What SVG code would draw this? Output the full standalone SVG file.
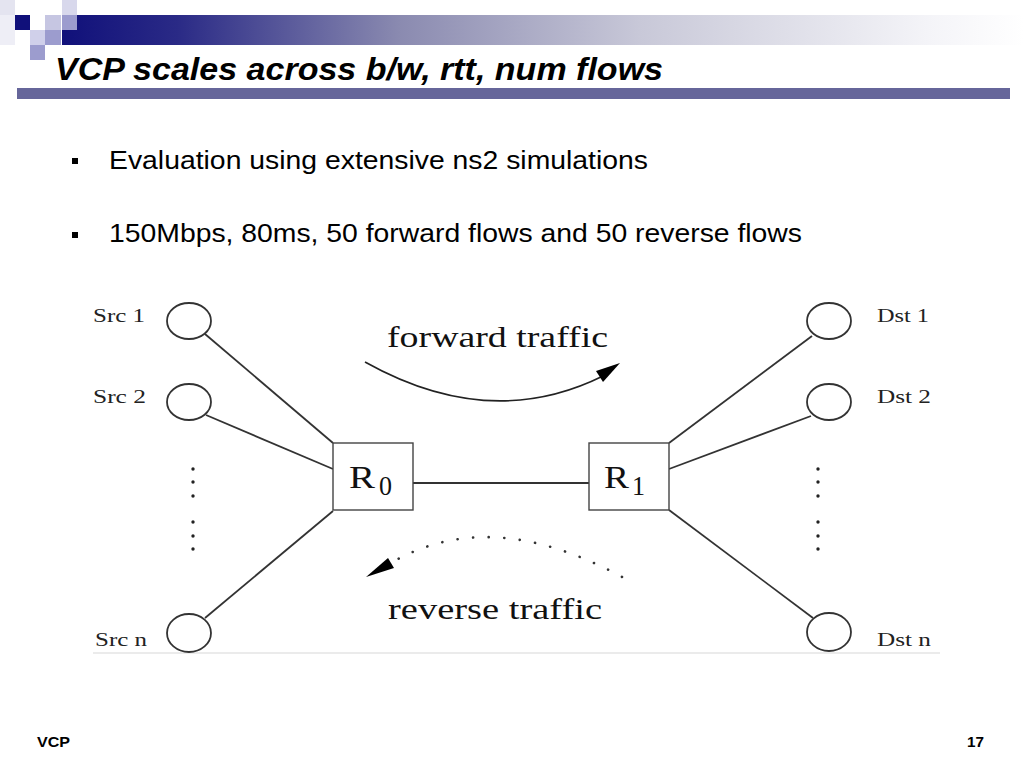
<svg xmlns="http://www.w3.org/2000/svg" width="1024" height="768" viewBox="0 0 1024 768">
<defs>
<linearGradient id="hdr" x1="0" y1="0" x2="1" y2="0">
<stop offset="0" stop-color="#10107a"/>
<stop offset="0.12" stop-color="#2a2a86"/>
<stop offset="0.35" stop-color="#8a8ab0"/>
<stop offset="0.6" stop-color="#c8c8d8"/>
<stop offset="0.9" stop-color="#f4f4f8"/>
<stop offset="1" stop-color="#ffffff"/>
</linearGradient>
<style>
text{white-space:pre}
.node{fill:#fff;stroke:#333;stroke-width:1.8}
.box{fill:#fff;stroke:#444;stroke-width:1.4}
.link{stroke:#333;stroke-width:1.8;fill:none}
.lbl{font-family:"Liberation Serif",serif;font-size:19px;fill:#222}
.big{font-family:"Liberation Serif",serif;fill:#111}
.bul{font-family:"Liberation Sans",Arial,sans-serif;font-size:25px;fill:#000}
.dot{fill:#222}
</style>
</defs>
<rect width="1024" height="768" fill="#fff"/>
<g id="header">
<rect x="0" y="0" width="15" height="15" fill="#e4e4f0"/>
<rect x="0" y="15" width="15" height="30" fill="#eeeef6"/>
<rect x="62" y="15" width="962" height="30" fill="url(#hdr)"/>
<rect x="15" y="15" width="15" height="15" fill="#10107a"/>
<rect x="62" y="0" width="15" height="15" fill="#d8d8ec"/>
<rect x="45" y="15" width="16" height="15" fill="#c6c6e2"/>
<rect x="62" y="15" width="15" height="15" fill="#9c9cce"/>
<rect x="30" y="30" width="15" height="15" fill="#d0d0ea"/>
<rect x="45" y="30" width="16" height="15" fill="#9c9cce"/>
<rect x="30" y="45" width="15" height="15" fill="#9c9cce"/>
<rect x="17" y="88" width="993" height="11" fill="#66669a"/>
<text x="55" y="80" font-family="Liberation Sans,Arial,sans-serif" font-size="32" font-weight="bold" font-style="italic" fill="#000" textLength="608" lengthAdjust="spacingAndGlyphs">VCP scales across b/w, rtt, num flows</text>
</g>
<g id="bullets">
<rect x="72" y="158" width="6" height="6" fill="#000"/>
<text class="bul" x="109" y="169" textLength="539" lengthAdjust="spacingAndGlyphs">Evaluation using extensive ns2 simulations</text>
<rect x="72" y="232" width="6" height="6" fill="#000"/>
<text class="bul" x="109" y="242" textLength="693" lengthAdjust="spacingAndGlyphs">150Mbps, 80ms, 50 forward flows and 50 reverse flows</text>
</g>
<line x1="93" y1="653" x2="940" y2="653" stroke="#e4e4e4" stroke-width="1.5"/>
<g id="connectors">
<line class="link" x1="205" y1="334" x2="333" y2="443"/>
<line class="link" x1="206" y1="415" x2="333" y2="469"/>
<line class="link" x1="205" y1="618" x2="333" y2="511"/>
<line class="link" x1="413" y1="483" x2="589" y2="483" stroke-width="1.4"/>
<line class="link" x1="669" y1="443" x2="812" y2="336"/>
<line class="link" x1="669" y1="469" x2="811" y2="416"/>
<line class="link" x1="669" y1="510" x2="813" y2="618"/>
<path d="M365,362 Q490,432 603,376" fill="none" stroke="#222" stroke-width="1.6"/>
<polygon points="620,363 596,371 603,382" fill="#000"/>
<path d="M622,577 Q490,505 391,563" fill="none" stroke="#333" stroke-width="2.6" stroke-linecap="round" stroke-dasharray="0.1 15.5"/>
<polygon points="366,577 388,558 394,568" fill="#000"/>
</g>
<g id="src1"><ellipse class="node" cx="189" cy="321" rx="22" ry="18"/><text class="lbl" x="93" y="322" textLength="52" lengthAdjust="spacingAndGlyphs">Src 1</text></g>
<g id="src2"><ellipse class="node" cx="189" cy="402" rx="22" ry="18"/><text class="lbl" x="93" y="403" textLength="53" lengthAdjust="spacingAndGlyphs">Src 2</text></g>
<g id="srcn"><ellipse class="node" cx="189" cy="633" rx="22" ry="19"/><text class="lbl" x="95" y="646" textLength="52" lengthAdjust="spacingAndGlyphs">Src n</text></g>
<g id="dst1"><ellipse class="node" cx="829" cy="321" rx="22" ry="18"/><text class="lbl" x="877" y="322" textLength="52" lengthAdjust="spacingAndGlyphs">Dst 1</text></g>
<g id="dst2"><ellipse class="node" cx="829" cy="402" rx="22" ry="18"/><text class="lbl" x="877" y="403" textLength="54" lengthAdjust="spacingAndGlyphs">Dst 2</text></g>
<g id="dstn"><ellipse class="node" cx="829" cy="632" rx="22" ry="19"/><text class="lbl" x="877" y="646" textLength="54" lengthAdjust="spacingAndGlyphs">Dst n</text></g>
<g id="r0"><rect class="box" x="333" y="443" width="80" height="67"/><text class="big" x="349" y="488" font-size="31" textLength="26" lengthAdjust="spacingAndGlyphs">R</text><text class="big" x="379" y="495" font-size="28" textLength="13" lengthAdjust="spacingAndGlyphs">0</text></g>
<g id="r1"><rect class="box" x="589" y="443" width="80" height="67"/><text class="big" x="604" y="488" font-size="31" textLength="25" lengthAdjust="spacingAndGlyphs">R</text><text class="big" x="632" y="495" font-size="28" textLength="13" lengthAdjust="spacingAndGlyphs">1</text></g>
<g id="dots">
<circle class="dot" cx="193" cy="469" r="1.7"/><circle class="dot" cx="193" cy="482" r="1.7"/><circle class="dot" cx="193" cy="496" r="1.7"/>
<circle class="dot" cx="193" cy="522" r="1.7"/><circle class="dot" cx="193" cy="536" r="1.7"/><circle class="dot" cx="193" cy="549" r="1.7"/>
<circle class="dot" cx="818" cy="469" r="1.7"/><circle class="dot" cx="818" cy="482" r="1.7"/><circle class="dot" cx="818" cy="496" r="1.7"/>
<circle class="dot" cx="818" cy="522" r="1.7"/><circle class="dot" cx="818" cy="536" r="1.7"/><circle class="dot" cx="818" cy="549" r="1.7"/>
</g>
<g id="traffic-labels">
<text class="big" x="387" y="347" font-size="30" textLength="221" lengthAdjust="spacingAndGlyphs">forward traffic</text>
<text class="big" x="388" y="619" font-size="29" textLength="214" lengthAdjust="spacingAndGlyphs">reverse traffic</text>
</g>
<g id="footer">
<text x="37" y="747" font-family="Liberation Sans,Arial,sans-serif" font-size="15" font-weight="bold" fill="#000" textLength="33" lengthAdjust="spacingAndGlyphs">VCP</text>
<text x="967" y="747" font-family="Liberation Sans,Arial,sans-serif" font-size="15" font-weight="bold" fill="#000" textLength="17" lengthAdjust="spacingAndGlyphs">17</text>
</g>
</svg>
